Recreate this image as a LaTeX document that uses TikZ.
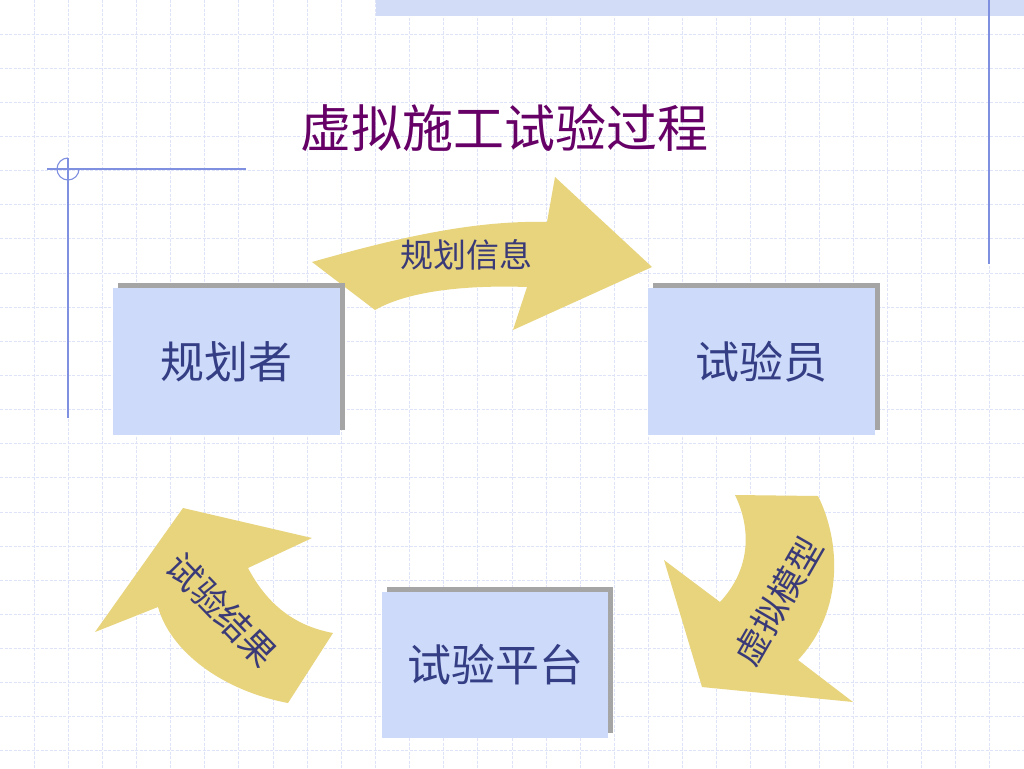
\documentclass[tikz,border=0pt]{standalone}
\usepackage{fontspec}
\newfontfamily\cjk{Noto Sans CJK SC}
\usetikzlibrary{shadows}
\definecolor{gridc}{RGB}{222,227,248}
\definecolor{bandc}{RGB}{210,220,246}
\definecolor{decoc}{RGB}{128,144,224}
\definecolor{arrowc}{RGB}{231,212,125}
\definecolor{boxc}{RGB}{205,218,250}
\definecolor{shadc}{RGB}{165,165,165}
\definecolor{boxtext}{RGB}{52,62,132}
\definecolor{lbltext}{RGB}{58,58,120}
\definecolor{titlec}{RGB}{102,0,102}
\tikzset{
  gridline/.style={draw=gridc, line width=0.9pt, dash pattern=on 3pt off 1.5pt},
  deco/.style={draw=decoc, line width=1.1pt},
  bigarrow/.style={fill=arrowc, draw=none},
  rolebox/.style={fill=boxc, draw=none, minimum width=227pt, minimum height=147pt,
    inner sep=0pt, font=\cjk\fontsize{44}{44}\selectfont, text=boxtext,
    general shadow={fill=shadc, shadow xshift=5pt, shadow yshift=5pt}},
  lbl/.style={font=\cjk\fontsize{33}{33}\selectfont, text=lbltext, inner sep=0pt},
  rlbl/.style={font=\cjk\fontsize{35}{35}\selectfont, text=lbltext, inner sep=0pt},
}
\begin{document}
\begin{tikzpicture}[x=1pt,y=-1pt]
\useasboundingbox (0,0) rectangle (1024,768);
\fill[white] (0,0) rectangle (1024,768);
% grid
\foreach \k in {1,...,29} {\draw[gridline] ({\k*34.133},0) -- ({\k*34.133},768);}
\foreach \k in {1,...,22} {\draw[gridline] (0,{\k*34.133}) -- (1024,{\k*34.133});}
% top band
\fill[bandc] (375.5,0) rectangle (1024,16);
% decorations
\draw[deco] (989,0) -- (989,264);
\draw[deco] (47,169) -- (246,169);
\draw[deco] (68,158) -- (68,418);
\draw[deco] (68,158) arc[start angle=270, end angle=0, radius=11];
% title
\node[font=\cjk\fontsize{51}{51}\selectfont, text=titlec, inner sep=0pt] (title) at (504,128) {虚拟施工试验过程};
% arrows
\fill[bigarrow] (312,262) .. controls (390,240) and (470,220) .. (547,222) -- (555,177) -- (652,267) -- (513,330) -- (527,287) .. controls (470,285) and (410,290) .. (375,310) -- cycle;
\fill[bigarrow] (735,495) -- (818,496) .. controls (840,540) and (845,610) .. (798,660) -- (853,702) -- (702,687) -- (664,560) -- (720,602) .. controls (750,570) and (752,530) .. (735,495) -- cycle;
\fill[bigarrow] (183,508) -- (312,538) -- (248,568) .. controls (265,600) and (290,625) .. (333,633) -- (288,703) .. controls (220,690) and (170,650) .. (158,607) -- (95,632) -- cycle;
% boxes
\node[rolebox] (planner) at (226.5,361.5) {规划者};
\node[rolebox] (tester) at (761.5,361.5) {试验员};
\node[rolebox, minimum width=226pt, minimum height=146pt] (platform) at (495,665) {试验平台};
% arrow labels
\node[lbl] (info) at (466,255) {规划信息};
\node[rlbl, rotate=60] (model) at (778,601) {虚拟模型};
\node[rlbl, rotate=-46] (result) at (222,610) {试验结果};
\end{tikzpicture}
\end{document}
